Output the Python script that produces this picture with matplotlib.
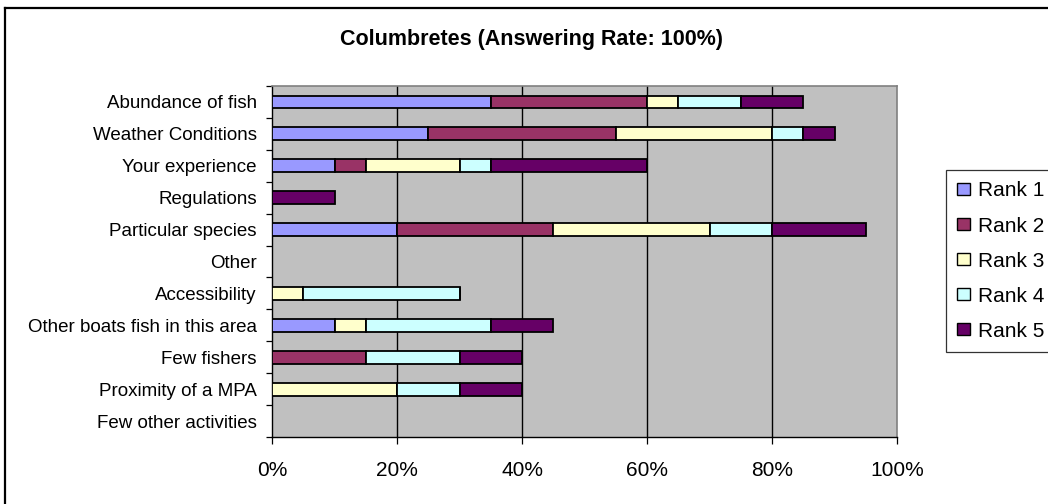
import matplotlib
matplotlib.use("Agg")
import matplotlib.pyplot as plt
from matplotlib.patches import Patch
from matplotlib.lines import Line2D
import numpy as np

plt.rcParams['font.family'] = ['Liberation Sans', 'DejaVu Sans']

categories = ["Abundance of fish", "Weather Conditions", "Your experience", "Regulations",
              "Particular species", "Other", "Accessibility", "Other boats fish in this area",
              "Few fishers", "Proximity of a MPA", "Few other activities"]
series_names = ["Rank 1", "Rank 2", "Rank 3", "Rank 4", "Rank 5"]
rank1 = [35, 25, 10, 0, 20, 0, 0, 10, 0, 0, 0]
rank2 = [25, 30, 5, 0, 25, 0, 0, 0, 15, 0, 0]
rank3 = [5, 25, 15, 0, 25, 0, 5, 5, 0, 20, 0]
rank4 = [10, 5, 5, 0, 10, 0, 25, 20, 15, 10, 0]
rank5 = [10, 5, 25, 10, 15, 0, 0, 10, 10, 10, 0]
colors = ["#9999FF", "#993366", "#FFFFCC", "#CCFFFF", "#660066"]
xticks = [0, 20, 40, 60, 80, 100]
xtick_labels = ["0%", "20%", "40%", "60%", "80%", "100%"]
title = "Columbretes (Answering Rate: 100%)"

W, H = 1048, 504
fig = plt.figure(figsize=(W / 100, H / 100), dpi=100)
fig.patch.set_facecolor("white")

L, R, T, B = 272, 897, 86, 437
ax = fig.add_axes([L / W, (H - B) / H, (R - L) / W, (B - T) / H])
ax.set_facecolor("#C0C0C0")

y = np.arange(len(categories))
left = np.zeros(len(categories))
for name, vals, c in zip(series_names, [rank1, rank2, rank3, rank4, rank5], colors):
    v = np.array(vals, dtype=float)
    ax.barh(y, v, left=left, height=0.4, color=c, edgecolor="black", linewidth=1.3,
            label=name, zorder=3)
    left += v

ax.set_xlim(0, 100)
ax.set_ylim(len(categories) - 0.5, -0.5)

for gx in xticks[1:-1]:
    ax.axvline(gx, color="black", linewidth=1.0, zorder=1)

ax.set_xticks(xticks)
ax.set_xticklabels(xtick_labels, fontsize=15)
ax.tick_params(axis="x", direction="out", length=5, width=0.9, pad=12, colors="black")

ax.set_yticks(np.arange(len(categories) + 1) - 0.5)
ax.set_yticklabels([])
ax.tick_params(axis="y", which="major", direction="out", length=4, width=0.9)
ax.set_yticks(y, minor=True)
ax.set_yticklabels(categories, minor=True, fontsize=13.5)
ax.tick_params(axis="y", which="minor", length=0, pad=11)

for s in ["top", "right"]:
    ax.spines[s].set_color("#808080")
    ax.spines[s].set_linewidth(1.2)
for s in ["left", "bottom"]:
    ax.spines[s].set_color("black")
    ax.spines[s].set_linewidth(1.0)

fig.text(531 / W, 1 - 40 / H, title, ha="center", va="center", fontsize=15.5, fontweight="bold")

# chart border
fig.add_artist(Line2D([5 / W, 5 / W], [1 - 8 / H, 0], color="black", linewidth=1.6,
                      transform=fig.transFigure))
fig.add_artist(Line2D([5 / W, 1.0], [1 - 8 / H, 1 - 8 / H], color="black", linewidth=1.6,
                      transform=fig.transFigure))

handles = [Patch(facecolor=c, edgecolor="black", linewidth=1.0) for c in colors]
leg = fig.legend(handles, series_names, loc="upper left",
                 bbox_to_anchor=(946 / W, 1 - 170 / H), bbox_transform=fig.transFigure,
                 fontsize=15, frameon=True, fancybox=False, edgecolor="black",
                 handlelength=0.62, handleheight=0.47, handletextpad=0.35,
                 labelspacing=0.77, borderpad=0.55, borderaxespad=0)
leg.get_frame().set_linewidth(0.9)

fig.savefig("out.png", dpi=100)
